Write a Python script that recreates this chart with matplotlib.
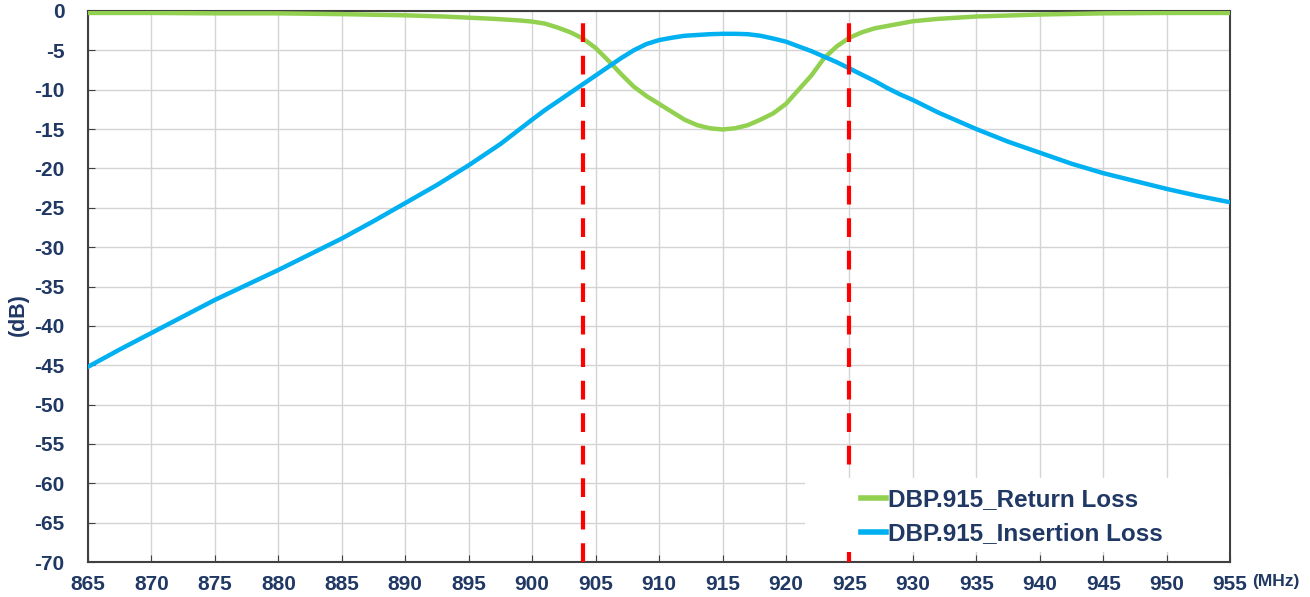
# Return loss / insertion loss of the DBP.915 band pass filter
import matplotlib.pyplot as plt
from matplotlib.patches import Rectangle

# frequency points (MHz) and measured values (dB)
rl_freq = [865, 870, 875, 880, 885, 890, 893, 895, 897, 899, 900, 901, 902, 903, 904,
           905, 906, 907, 908, 909, 910, 911, 912, 913, 914, 915, 916, 917, 918, 919,
           920, 921, 922, 923, 924, 925, 926, 927, 928, 929, 930, 932, 935, 940, 945,
           950, 955]
return_loss = [-0.25, -0.25, -0.3, -0.3, -0.4, -0.55, -0.7, -0.85, -1.0, -1.2, -1.35, -1.6,
               -2.1, -2.7, -3.5, -4.7, -6.3, -8.0, -9.6, -10.8, -11.8, -12.8, -13.8, -14.5,
               -14.9, -15.05, -14.9, -14.5, -13.8, -13.0, -11.8, -10.0, -8.2, -6.0, -4.5,
               -3.4, -2.7, -2.2, -1.9, -1.6, -1.3, -1.0, -0.7, -0.45, -0.3, -0.25, -0.25]

il_freq = [865, 867.5, 870, 872.5, 875, 877.5, 880, 882.5, 885, 887.5, 890, 892.5, 895,
           897.5, 900, 901, 902, 903, 904, 905, 906, 907, 908, 909, 910, 911, 912, 913,
           914, 915, 916, 917, 918, 919, 920, 921, 922, 923, 924, 925, 926, 927, 928, 929,
           930, 932, 935, 937.5, 940, 942.5, 945, 947.5, 950, 952.5, 955]
insertion_loss = [-45.2, -43.0, -40.9, -38.8, -36.7, -34.8, -32.9, -30.9, -28.9, -26.7,
                  -24.4, -22.1, -19.6, -16.9, -13.8, -12.6, -11.5, -10.4, -9.3, -8.2, -7.1,
                  -6.0, -5.0, -4.2, -3.7, -3.4, -3.15, -3.05, -2.95, -2.9, -2.9, -2.95,
                  -3.15, -3.5, -3.9, -4.5, -5.1, -5.8, -6.5, -7.3, -8.1, -8.9, -9.8, -10.6,
                  -11.3, -12.9, -15.0, -16.6, -18.0, -19.4, -20.6, -21.6, -22.6, -23.5, -24.3]

band_edges = [904, 925]
x_ticks = list(range(865, 956, 5))
y_ticks = list(range(-70, 1, 5))

text_color = '#203864'
plt.rcParams['font.family'] = ['Liberation Sans', 'DejaVu Sans']
plt.rcParams['font.weight'] = 'bold'
plt.rcParams['axes.unicode_minus'] = False

fig = plt.figure(figsize=(13.1, 5.97), dpi=100)
ax = fig.add_axes([0.0672, 0.0586, 0.8718, 0.923])

ax.plot(rl_freq, return_loss, color='#92D050', linewidth=3.2, label='DBP.915_Return Loss', zorder=3)
ax.plot(il_freq, insertion_loss, color='#00B0F0', linewidth=3.2, label='DBP.915_Insertion Loss', zorder=3)
for f in band_edges:
    ax.axvline(f, color='#FF0000', linewidth=3, dashes=(4.5, 3.3), zorder=4)

ax.set_xlim(865, 955)
ax.set_ylim(-70, 0)
ax.set_xticks(x_ticks)
ax.set_yticks(y_ticks)
ax.grid(True, color='#D4D4D4', linewidth=1)
ax.set_axisbelow(True)
ax.tick_params(direction='in', length=5, color='#404040', labelcolor=text_color, labelsize=15)
ax.tick_params(axis='y', pad=17)
ax.tick_params(axis='x', pad=9)
for s in ax.spines.values():
    s.set_color('#404040')
    s.set_linewidth(1.5)

fig.text(18 / 1310, 1 - 315 / 597, '(dB)', rotation=90, color=text_color, fontsize=15.5,
         fontweight='bold', ha='center', va='center')
ax.text(1.040, -0.035, '(MHz)', transform=ax.transAxes, color=text_color, fontsize=12.5,
        fontweight='bold', ha='center', va='center')

# white box behind the legend
ax.add_patch(Rectangle((0.628, 0.018), 0.371, 0.134, transform=ax.transAxes,
                       facecolor='white', edgecolor='none', zorder=5))
leg = ax.legend(loc='center left', bbox_to_anchor=(0.658, 0.082), frameon=False,
                fontsize=17.5, handlelength=1.0, handletextpad=0.1, labelspacing=0.45)
leg.set_zorder(6)
for t in leg.get_texts():
    t.set_color(text_color)
    t.set_fontweight('bold')
for h in leg.legend_handles:
    h.set_linewidth(4)

plt.savefig('out.png', dpi=100)
